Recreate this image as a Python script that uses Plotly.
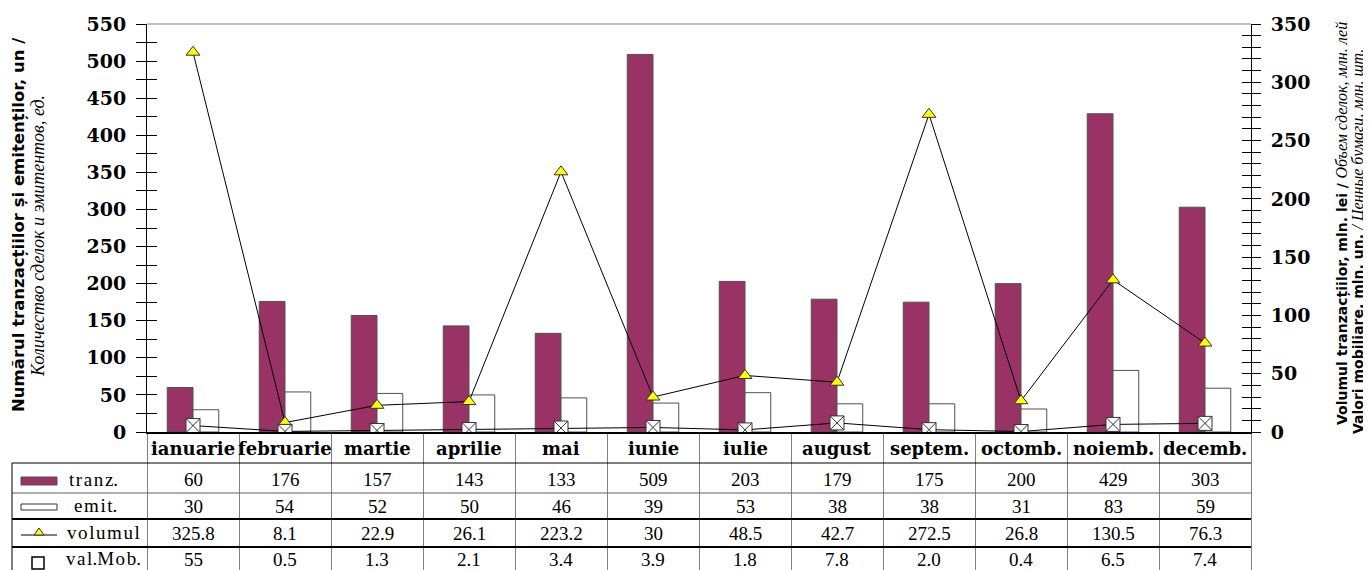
import plotly.graph_objects as go

months = ["ianuarie", "februarie", "martie", "aprilie", "mai", "iunie",
          "iulie", "august", "septem.", "octomb.", "noiemb.", "decemb."]
tranz = [60, 176, 157, 143, 133, 509, 203, 179, 175, 200, 429, 303]
emit = [30, 54, 52, 50, 46, 39, 53, 38, 38, 31, 83, 59]
volumul = [325.8, 8.1, 22.9, 26.1, 223.2, 30, 48.5, 42.7, 272.5, 26.8, 130.5, 76.3]
valmob = [5.5, 0.5, 1.3, 2.1, 3.4, 3.9, 1.8, 7.8, 2.0, 0.4, 6.5, 7.4]
valmob_labels = ["55", "0.5", "1.3", "2.1", "3.4", "3.9", "1.8", "7.8", "2.0", "0.4", "6.5", "7.4"]

PAGE_W, PAGE_H = 1371, 570
OFF = 8  # default body margin of the page
W, H = PAGE_W - OFF, PAGE_H - OFF
X0, X1 = 147, 1251
Y0, Y1 = 432, 24
PLUM = "#993366"


def px(x):
    return (x - OFF) / W


def py(y):
    return 1 - (y - OFF) / H


fig = go.Figure()
fig.add_trace(go.Bar(x=months, y=tranz, name="tranz.", marker=dict(color=PLUM, line=dict(color="#505050", width=1))))
fig.add_trace(go.Bar(x=months, y=emit, name="emit.", marker=dict(color="white", line=dict(color="#505050", width=1))))
fig.add_trace(go.Scatter(x=months, y=volumul, yaxis="y2", mode="lines+markers", name="volumul",
                         line=dict(color="black", width=1),
                         marker=dict(symbol="triangle-up", size=12, color="#FFFF00", line=dict(color="#333", width=1))))
fig.add_trace(go.Scatter(x=months, y=valmob, yaxis="y2", mode="lines+markers", name="val.Mob.",
                         line=dict(color="black", width=1),
                         marker=dict(symbol="square-x", size=14, color="white", line=dict(color="#333", width=1))))
# helper traces so the tick-only overlay axes are drawn
fig.add_trace(go.Scatter(x=[months[0]], y=[None], yaxis="y3", showlegend=False, hoverinfo="skip"))
fig.add_trace(go.Scatter(x=[months[0]], y=[None], yaxis="y4", showlegend=False, hoverinfo="skip"))

tickfont = dict(family="DejaVu Serif", size=19, color="black", weight="bold")
dom_x = [px(X0), px(X1)]
dom_y = [py(Y0), py(Y1)]

fig.update_layout(
    width=W, height=H, margin=dict(l=0, r=0, t=0, b=0, autoexpand=False),
    paper_bgcolor="white", plot_bgcolor="white",
    showlegend=False, barmode="group", bargap=0.44, bargroupgap=0,
    xaxis=dict(domain=dom_x, type="category", range=[-0.5, 11.5], tickson="boundaries",
               ticks="outside", ticklen=PAGE_H - Y0 + 2, tickcolor="#808080", tickwidth=1,
               showticklabels=False, showline=True, linecolor="black", linewidth=2,
               showgrid=False, mirror=False, zeroline=False, automargin=False),
    yaxis=dict(domain=dom_y, range=[0, 550], dtick=50, ticks="outside", ticklen=10,
               tickcolor="black", minor=dict(dtick=25, ticks="outside", ticklen=10, tickcolor="black"),
               showline=True, linecolor="black", linewidth=1, showgrid=False, zeroline=False,
               tickfont=tickfont, ticklabelstandoff=6, automargin=False),
    yaxis2=dict(domain=dom_y, overlaying="y", side="right", anchor="x", range=[0, 350], dtick=50,
                ticks="outside", ticklen=9, tickcolor="black",
                minor=dict(dtick=10, ticks="outside", ticklen=9, tickcolor="black"),
                showline=True, linecolor="black", linewidth=1, showgrid=False, zeroline=False,
                tickfont=tickfont, ticklabelstandoff=6, automargin=False),
    yaxis3=dict(domain=dom_y, overlaying="y", side="left", anchor="x", range=[0, 550], dtick=25,
                ticks="inside", ticklen=10, tickcolor="black", showticklabels=False,
                showline=False, showgrid=False, zeroline=False, automargin=False),
    yaxis4=dict(domain=dom_y, overlaying="y", side="right", anchor="x", range=[0, 350], dtick=10,
                ticks="inside", ticklen=9, tickcolor="black", showticklabels=False,
                showline=False, showgrid=False, zeroline=False, automargin=False),
)

shapes = []
# top border of plot area
shapes.append(dict(type="line", xref="paper", yref="paper", x0=px(X0), x1=px(X1), y0=py(Y1), y1=py(Y1),
                   line=dict(color="#808080", width=1)))
# table horizontal lines
for yy, col, wd in [(463, "black", 1), (493, "#606060", 1), (519, "black", 2), (547, "black", 2)]:
    shapes.append(dict(type="line", xref="paper", yref="paper", x0=px(12), x1=px(X1), y0=py(yy), y1=py(yy),
                       line=dict(color=col, width=wd)))
# table left border
shapes.append(dict(type="line", xref="paper", yref="paper", x0=px(12), x1=px(12), y0=py(463), y1=py(PAGE_H + 5),
                   line=dict(color="black", width=1)))
# legend glyphs in the table
shapes.append(dict(type="rect", xref="paper", yref="paper", x0=px(21), x1=px(57), y0=py(485), y1=py(477),
                   fillcolor=PLUM, line=dict(color="#505050", width=1)))
shapes.append(dict(type="rect", xref="paper", yref="paper", x0=px(21), x1=px(57), y0=py(510), y1=py(504),
                   fillcolor="white", line=dict(color="#333", width=1)))
shapes.append(dict(type="line", xref="paper", yref="paper", x0=px(21), x1=px(57), y0=py(535), y1=py(535),
                   line=dict(color="black", width=1)))
shapes.append(dict(type="path", xref="paper", yref="paper",
                   path=f"M {px(34)},{py(535)} L {px(44)},{py(535)} L {px(39)},{py(528)} Z",
                   fillcolor="#FFFF00", line=dict(color="#333", width=1)))
shapes.append(dict(type="rect", xref="paper", yref="paper", x0=px(32), x1=px(44), y0=py(569), y1=py(557),
                   fillcolor="white", line=dict(color="black", width=1.5)))
fig.update_layout(shapes=shapes)

ann = []
mfont = dict(family="DejaVu Serif", size=18, color="black", weight="bold")
nfont = dict(family="Liberation Serif", size=19, color="black")
for i, m in enumerate(months):
    ann.append(dict(x=m, xref="x", y=py(448), yref="paper", text=m, showarrow=False, font=mfont,
                    xanchor="center", yanchor="middle"))
    ann.append(dict(x=m, xref="x", y=py(479), yref="paper", text=str(tranz[i]), showarrow=False, font=nfont,
                    xanchor="center", yanchor="middle"))
    ann.append(dict(x=m, xref="x", y=py(506), yref="paper", text=str(emit[i]), showarrow=False, font=nfont,
                    xanchor="center", yanchor="middle"))
    ann.append(dict(x=m, xref="x", y=py(533), yref="paper", text=f"{volumul[i]:g}", showarrow=False, font=nfont,
                    xanchor="center", yanchor="middle"))
    ann.append(dict(x=m, xref="x", y=py(559), yref="paper", text=valmob_labels[i], showarrow=False, font=nfont,
                    xanchor="center", yanchor="middle"))

lfont = dict(family="Liberation Serif", size=19, color="black")
for txt, xc, yc in [("t r a n z.", 94, 479), ("e m i t.", 95, 505), ("v o l u m u l", 103, 532),
                    ("v a l.M o b.", 103, 558)]:
    ann.append(dict(x=px(xc), xref="paper", y=py(yc), yref="paper", text=txt.replace(" ", "\u200a"),
                    showarrow=False, font=lfont, xanchor="center", yanchor="middle"))

# axis titles
ann.append(dict(x=px(19), xref="paper", y=py(225), yref="paper", textangle=-90, showarrow=False,
                text="<b>Numărul tranzacțiilor și emitenților, un /</b>",
                font=dict(family="DejaVu Sans", size=16.5, color="black"), xanchor="center", yanchor="middle"))
ann.append(dict(x=px(38), xref="paper", y=py(236), yref="paper", textangle=-90, showarrow=False,
                text="<i>Количество сделок и эмитентов, ед.</i>",
                font=dict(family="Liberation Serif", size=18, color="black"), xanchor="center", yanchor="middle"))
ann.append(dict(x=px(1342), xref="paper", y=py(224), yref="paper", textangle=-90, showarrow=False,
                text="<b>Volumul tranzacțiilor, mln. lei /</b> "
                     "<span style='font-family:Liberation Serif;font-size:16px'><i>Объем сделок, млн. лей</i></span>",
                font=dict(family="DejaVu Sans", size=14, color="black"), xanchor="center", yanchor="middle"))
ann.append(dict(x=px(1358), xref="paper", y=py(242), yref="paper", textangle=-90, showarrow=False,
                text="<b>Valori mobiliare, mln. un.</b> "
                     "<span style='font-family:Liberation Serif;font-size:16px'><i>/ Ценные бумаги, млн. шт.</i></span>",
                font=dict(family="DejaVu Sans", size=14, color="black"), xanchor="center", yanchor="middle"))
fig.update_layout(annotations=ann)

fig.write_html("out.html")
